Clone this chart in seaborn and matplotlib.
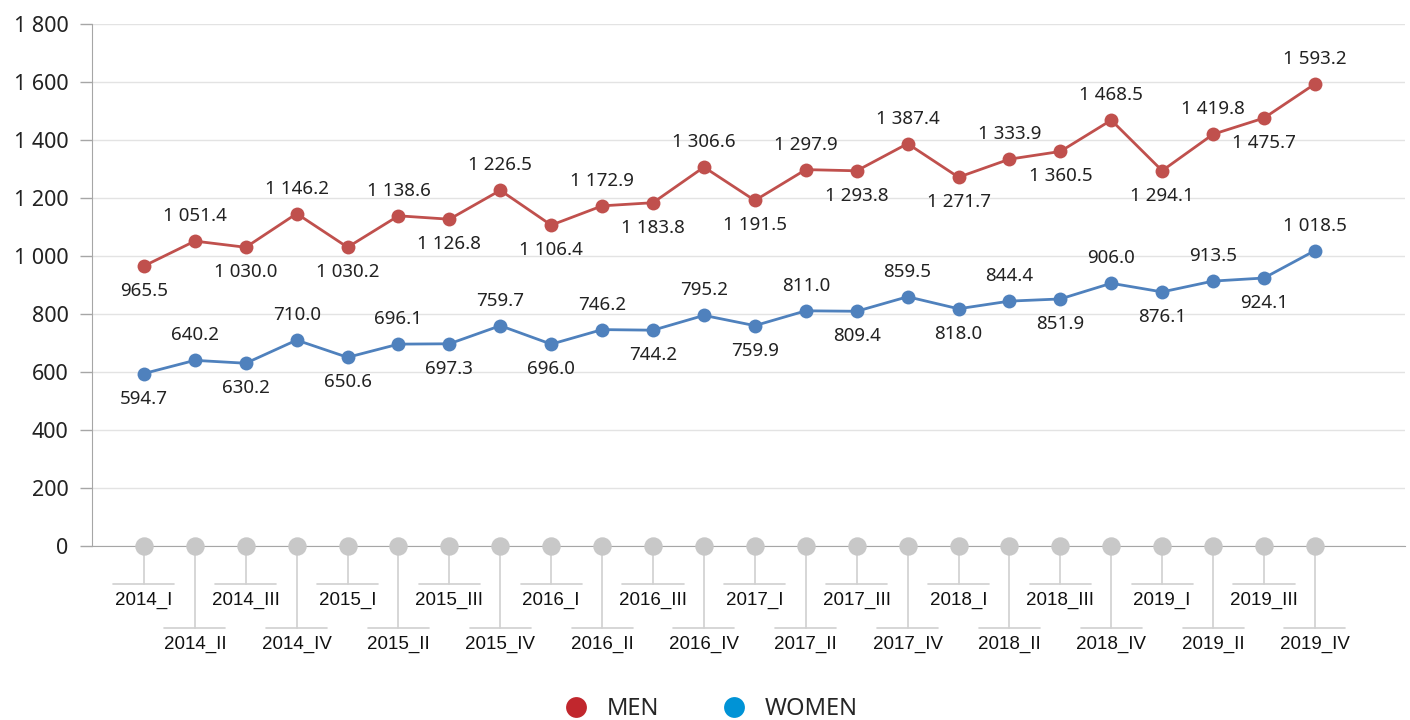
import numpy as np
import pandas as pd
import matplotlib
matplotlib.use("Agg")
import matplotlib.pyplot as plt
import seaborn as sns
from matplotlib.lines import Line2D
from matplotlib.ticker import FuncFormatter

# =========================================================
# DATA
# =========================================================

quarters = [
    "2014_I", "2014_II", "2014_III", "2014_IV",
    "2015_I", "2015_II", "2015_III", "2015_IV",
    "2016_I", "2016_II", "2016_III", "2016_IV",
    "2017_I", "2017_II", "2017_III", "2017_IV",
    "2018_I", "2018_II", "2018_III", "2018_IV",
    "2019_I", "2019_II", "2019_III", "2019_IV",
]

men = [965.5, 1051.4, 1030.0, 1146.2, 1030.2, 1138.6, 1126.8, 1226.5,
       1106.4, 1172.9, 1183.8, 1306.6, 1191.5, 1297.9, 1293.8, 1387.4,
       1271.7, 1333.9, 1360.5, 1468.5, 1294.1, 1419.8, 1475.7, 1593.2]

women = [594.7, 640.2, 630.2, 710.0, 650.6, 696.1, 697.3, 759.7,
         696.0, 746.2, 744.2, 795.2, 759.9, 811.0, 809.4, 859.5,
         818.0, 844.4, 851.9, 906.0, 876.1, 913.5, 924.1, 1018.5]

baseline = [0] * len(quarters)

series_names = ["MEN", "WOMEN"]
line_colors = {"MEN": "#C0504D", "WOMEN": "#4F81BD"}
legend_colors = {"MEN": "#C1272D", "WOMEN": "#0093D6"}

y_ticks = [0, 200, 400, 600, 800, 1000, 1200, 1400, 1600, 1800]

# =========================================================
# BUILD TABLE
# =========================================================

x_pos = np.arange(len(quarters))
df = pd.DataFrame({
    "x": np.concatenate([x_pos, x_pos]),
    "value": men + women,
    "series": ["MEN"] * len(men) + ["WOMEN"] * len(women),
})

# =========================================================
# PLOT
# =========================================================

sns.set_style("white")
plt.rcParams["font.family"] = ["Noto Sans", "DejaVu Sans"]

W, H = 1410, 720
fig = plt.figure(figsize=(W / 100, H / 100), dpi=100)
ax = fig.add_axes([92 / W, 174 / H, 1313 / W, 522 / H])

sns.lineplot(
    data=df, x="x", y="value", hue="series", palette=line_colors,
    marker="o", markersize=10, markeredgewidth=0, linewidth=2,
    legend=False, ax=ax, zorder=3,
)

# gray baseline markers
ax.scatter(x_pos, baseline, s=150, color="#C8C8C8", zorder=4, clip_on=False)

ax.set_xlim(-1.02, 24.77)
ax.set_ylim(0, 1800)
ax.set_yticks(y_ticks)
ax.yaxis.set_major_formatter(FuncFormatter(lambda v, p: f"{int(v):,}".replace(",", " ")))
ax.tick_params(axis="y", labelsize=15.5, length=9, color="#A6A6A6", width=1,
               left=True, pad=8, labelcolor="#222222")
ax.set_xticks([])
ax.set_xlabel("")
ax.set_ylabel("")

ax.grid(axis="y", color="#E3E3E3", linewidth=1)
ax.set_axisbelow(True)
for s in ["top", "right"]:
    ax.spines[s].set_visible(False)
ax.spines["left"].set_color("#A6A6A6")
ax.spines["bottom"].set_color("#A6A6A6")
ax.spines["bottom"].set_zorder(2)

# data labels: alternate below / above
def fmt(v):
    return f"{v:,.1f}".replace(",", " ")

for vals in [men, women]:
    for i, v in enumerate(vals):
        dy = -18 if i % 2 == 0 else 18
        ax.annotate(fmt(v), (i, v), xytext=(0, dy), textcoords="offset points",
                    ha="center", va="center", fontsize=13.5, color="#222222")

# staggered category labels with leader lines
short_y, long_y = -131, -283
for i, q in enumerate(quarters):
    low = i % 2 == 1
    yl = long_y if low else short_y
    ax.plot([i, i], [0, yl], color="#D0D0D0", lw=1.2, clip_on=False, zorder=1)
    ax.plot([i - 0.6, i + 0.6], [yl, yl], color="#D0D0D0", lw=1.2, clip_on=False, zorder=1)
    ax.text(i, yl - 55, q, ha="center", va="center", fontsize=13.5,
            family=["Liberation Sans", "DejaVu Sans"], color="#111111", clip_on=False)

# legend
handles = [Line2D([], [], marker="o", linestyle="", markersize=15, markeredgewidth=0,
                  color=legend_colors[n], label=n) for n in series_names]
fig.legend(handles=handles, loc="center", bbox_to_anchor=(0.5, 11 / H), ncol=2,
           frameon=False, fontsize=17, handletextpad=0.3, columnspacing=2.2)

fig.savefig("out.png", dpi=100)
